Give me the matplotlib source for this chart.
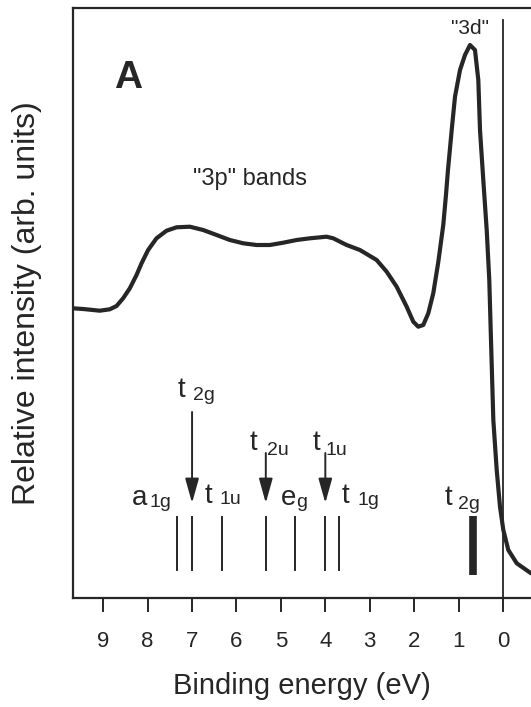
import matplotlib
matplotlib.use("Agg")
import matplotlib.pyplot as plt

plt.rcParams['font.family'] = ['Liberation Sans', 'DejaVu Sans']

# ---- data (binding energy in eV, intensity in arb. units) ----
energy = [9.685, 9.453, 9.077, 8.851, 8.700, 8.552, 8.401, 8.250, 8.137,
          7.989, 7.800, 7.574, 7.349, 7.050, 6.750, 6.448, 6.149, 5.849,
          5.547, 5.248, 4.948, 4.646, 4.347, 3.971, 3.822, 3.520, 3.221,
          2.845, 2.619, 2.394, 2.169, 2.020, 1.908, 1.795, 1.682, 1.570,
          1.457, 1.345, 1.284, 1.239, 1.155, 1.081, 0.968, 0.856, 0.743,
          0.631, 0.556, 0.518, 0.444, 0.367, 0.309, 0.277, 0.218, 0.142,
          0.068, -0.007, -0.119, -0.309, -0.631]
intensity = [28.97, 28.90, 28.73, 28.87, 29.20, 29.97, 30.97, 32.30, 33.47,
             34.80, 35.97, 36.73, 37.07, 37.13, 36.80, 36.30, 35.80, 35.47,
             35.30, 35.30, 35.53, 35.80, 35.97, 36.13, 35.97, 35.30, 34.80,
             33.80, 32.63, 31.13, 29.13, 27.63, 27.13, 27.30, 28.47, 30.47,
             33.60, 37.30, 40.30, 42.80, 46.80, 50.13, 52.80, 54.30, 55.30,
             54.80, 51.80, 46.80, 41.80, 36.80, 31.80, 26.80, 17.80, 12.80,
             9.13, 6.80, 4.80, 3.47, 2.47]

# calculated level positions (sticks)
stick_energy = [7.34, 7.00, 6.33, 5.34, 4.68, 4.00, 3.69]
stick_sym_main = ['a', 't', 't', 't', 'e', 't', 't']
stick_sym_sub = ['1g', '2g', '1u', '2u', 'g', '1u', '1g']
stick_low, stick_high = 2.8, 8.1

# strong t2g level near the Fermi energy
bar_energy = 0.68
bar_low, bar_high = 2.3, 8.2

# arrows marking levels (energy, tail intensity)
arrow_energy = [7.00, 5.34, 4.00]
arrow_tail = [18.6, 14.5, 14.5]
arrow_tip = 9.5

xticks = [9, 8, 7, 6, 5, 4, 3, 2, 1, 0]

INK = '#262626'

fig = plt.figure(figsize=(5.31, 7.07), dpi=100)
L, R, T, B = 73, 531, 8, 598
ax = fig.add_axes([L / 531, 1 - B / 707, (R - L) / 531, (B - T) / 707])
ax.set_xlim(9.68, -0.63)
ax.set_ylim(0, 59)

ax.plot(energy, intensity, color=INK, lw=3.0, solid_capstyle='round',
        solid_joinstyle='round')

# Fermi level line
ax.plot([0, 0], [0, 57.8], color=INK, lw=1.3)

# sticks
for e in stick_energy:
    ax.plot([e, e], [stick_low, stick_high], color=INK, lw=1.4)
ax.plot([bar_energy, bar_energy], [bar_low, bar_high], color=INK, lw=5.5,
        solid_capstyle='butt')

# arrows
for e, t in zip(arrow_energy, arrow_tail):
    ax.annotate('', xy=(e, arrow_tip), xytext=(e, t),
                arrowprops=dict(arrowstyle='-|>,head_length=1.5,head_width=0.42',
                                color=INK, lw=1.4, shrinkA=0, shrinkB=0,
                                mutation_scale=10))

# symmetry labels: (offset of main letter, offset of subscript) in pixels
# relative to top of each stick
label_offsets = [((-45, 12), (-27, 10)),
                 ((-14, 120), (1, 117)),
                 ((-17, 14), (-2, 13)),
                 ((-16, 67), (1, 62)),
                 ((-14, 12), (1, 10)),
                 ((-13, 67), (0, 62)),
                 ((3, 14), (18, 12))]
for e, m, s, (mo, so) in zip(stick_energy, stick_sym_main, stick_sym_sub,
                             label_offsets):
    ax.annotate(m, xy=(e, stick_high), xytext=mo, textcoords='offset pixels',
                ha='left', va='baseline', fontsize=20, color=INK)
    ax.annotate(s, xy=(e, stick_high), xytext=so, textcoords='offset pixels',
                ha='left', va='baseline', fontsize=14, color=INK)
ax.annotate('t', xy=(bar_energy, bar_high), xytext=(-28, 11),
            textcoords='offset pixels', ha='left', va='baseline',
            fontsize=20, color=INK)
ax.annotate('2g', xy=(bar_energy, bar_high), xytext=(-15, 7),
            textcoords='offset pixels', ha='left', va='baseline',
            fontsize=14, color=INK)

# annotations
ax.text(0.74, 57.0, '"3d"', ha='center', va='center', fontsize=15, color=INK)
ax.text(5.70, 41.9, '"3p" bands', ha='center', va='center', fontsize=17,
        color=INK)
ax.text(8.75, 51.0, 'A', ha='left', va='baseline', fontsize=28,
        fontweight='bold', color=INK)

# axes styling
for sp in ['left', 'top', 'bottom']:
    ax.spines[sp].set_linewidth(1.6)
    ax.spines[sp].set_color(INK)
ax.spines['right'].set_visible(False)
ax.set_yticks([])
ax.set_xticks(xticks)
ax.set_xticklabels([str(v) for v in xticks])
ax.tick_params(axis='x', direction='out', length=10, width=1.4, colors=INK,
               labelsize=16, pad=14)
ax.set_xlabel('Binding energy (eV)', fontsize=21, color=INK, labelpad=14)
ax.set_ylabel('Relative intensity (arb. units)', fontsize=23, color=INK,
              labelpad=22)

fig.savefig('out.png', dpi=100)
